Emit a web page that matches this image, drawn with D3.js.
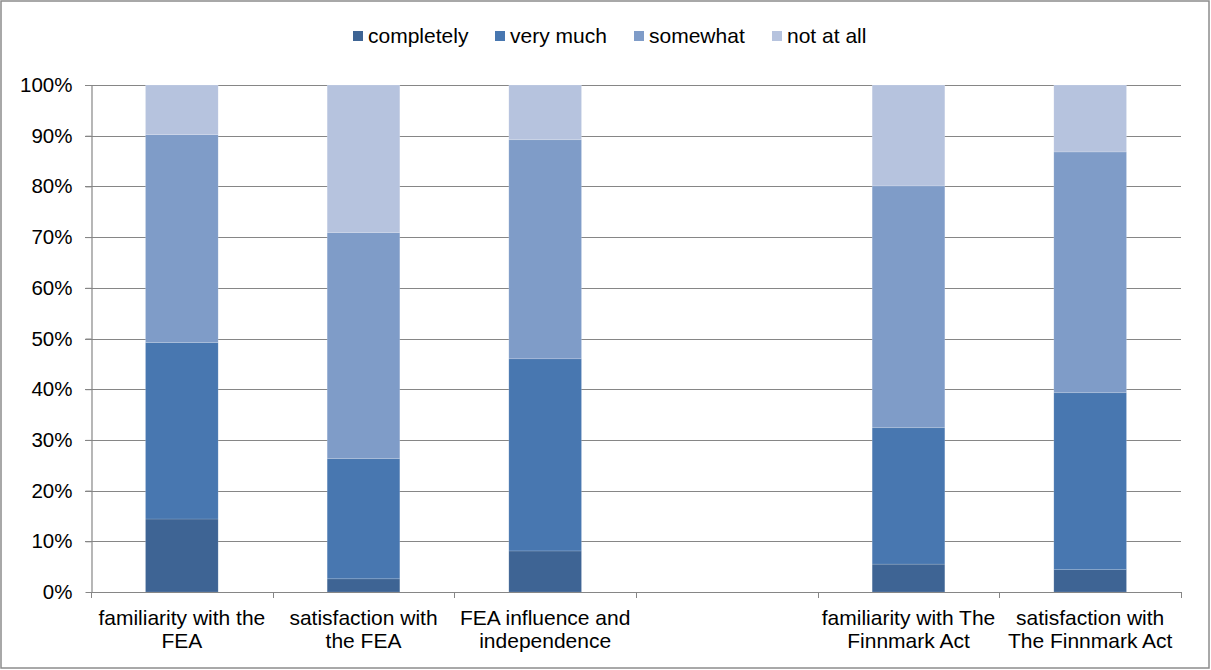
<!DOCTYPE html>
<html>
<head>
<meta charset="utf-8">
<script src="https://cdn.jsdelivr.net/npm/d3@7"></script>
<style>
  html, body { margin: 0; padding: 0; background: #fff; }
  #chart { width: 1211px; height: 670px; }
  text { font-family: "Liberation Sans", Arial, sans-serif; fill: #000; }
</style>
</head>
<body>
<div id="chart"></div>
<script>
// categories (line breaks as in the original labels, slot 4 is empty)
const categories = [
  "familiarity with the\nFEA",
  "satisfaction with\nthe FEA",
  "FEA influence and\nindependence",
  "",
  "familiarity with The\nFinnmark Act",
  "satisfaction with\nThe Finnmark Act"
];
const seriesNames = ["completely", "very much", "somewhat", "not at all"];
const seriesColors = ["#3e6494", "#4877b0", "#7f9cc8", "#b6c3de"];

// percent per category
const completely = [14.4, 2.6, 8.1, null, 5.5, 4.4];
const veryMuch = [34.8, 23.7, 37.9, null, 26.9, 34.9];
const somewhat = [41.0, 44.6, 43.2, null, 47.7, 47.5];
const notAtAll = [9.8, 29.1, 10.8, null, 19.9, 13.2];

const yTicks = [0, 10, 20, 30, 40, 50, 60, 70, 80, 90, 100];

const width = 1211, height = 670;
const margin = { left: 91, right: 30, top: 85, bottom: 78 };

const svg = d3.select("#chart").append("svg")
  .attr("width", width)
  .attr("height", height);

// outer frame
svg.append("rect")
  .attr("x", 1).attr("y", 1)
  .attr("width", width - 3).attr("height", height - 3)
  .attr("fill", "#fff")
  .attr("stroke", "#8c8c8c")
  .attr("stroke-width", 1.5);

const x = d3.scaleBand()
  .domain(d3.range(categories.length))
  .range([margin.left, width - margin.right])
  .paddingInner(0.6)
  .paddingOuter(0.3);

const y = d3.scaleLinear()
  .domain([0, 100])
  .range([height - margin.bottom, margin.top]);

const step = x.step();

// gridlines
svg.append("g")
  .selectAll("line")
  .data(yTicks.filter(d => d > 0))
  .join("line")
  .attr("x1", margin.left - 6)
  .attr("x2", width - margin.right)
  .attr("y1", d => Math.round(y(d)) + 0.5)
  .attr("y2", d => Math.round(y(d)) + 0.5)
  .attr("stroke", "#868686")
  .attr("stroke-width", 1.2);

// stacked bars
const rows = categories.map((c, i) => ({
  i,
  "completely": completely[i],
  "very much": veryMuch[i],
  "somewhat": somewhat[i],
  "not at all": notAtAll[i]
})).filter(r => r.completely != null);

const stack = d3.stack().keys(seriesNames);
const layers = stack(rows);

svg.append("g")
  .selectAll("g")
  .data(layers)
  .join("g")
  .attr("fill", (d, k) => seriesColors[k])
  .selectAll("rect")
  .data(d => d)
  .join("rect")
  .attr("x", d => x(d.data.i))
  .attr("width", x.bandwidth())
  .attr("y", d => y(d[1]))
  .attr("height", d => y(d[0]) - y(d[1]))
  .attr("stroke", "rgba(255,255,255,0.25)")
  .attr("stroke-width", 0.6);

// y axis
const yAxis = svg.append("g")
  .attr("transform", `translate(${margin.left + 0.5},0)`)
  .call(d3.axisLeft(y).tickValues(yTicks).tickFormat(d => d + "%").tickSize(6).tickSizeOuter(0));
yAxis.select(".domain").attr("stroke", "#868686").attr("stroke-width", 1.2);
yAxis.selectAll(".tick line").attr("stroke", "#868686");
yAxis.selectAll(".tick text")
  .attr("x", -19)
  .style("font-size", "20.5px")
  .style("font-family", "'Liberation Sans', Arial, sans-serif")
  .attr("fill", "#000");

// x axis line and ticks at category boundaries
const x0 = y(0);
svg.append("line")
  .attr("x1", margin.left).attr("x2", width - margin.right)
  .attr("y1", Math.round(x0) + 0.5).attr("y2", Math.round(x0) + 0.5)
  .attr("stroke", "#868686")
  .attr("stroke-width", 1.2);
svg.append("g")
  .selectAll("line")
  .data(d3.range(categories.length + 1))
  .join("line")
  .attr("x1", i => Math.round(margin.left + i * step) + 0.5)
  .attr("x2", i => Math.round(margin.left + i * step) + 0.5)
  .attr("y1", x0)
  .attr("y2", x0 + 6)
  .attr("stroke", "#868686");

// category labels
const labels = svg.append("g")
  .selectAll("text")
  .data(categories)
  .join("text")
  .attr("text-anchor", "middle")
  .style("font-size", "21px")
  .attr("transform", (d, i) => `translate(${x(i) + x.bandwidth() / 2},${x0 + 33})`);
labels.selectAll("tspan")
  .data(d => d.split("\n"))
  .join("tspan")
  .attr("x", 0)
  .attr("dy", (d, j) => j === 0 ? 0 : 23)
  .text(d => d);

// legend
const legendX = [353, 495, 634, 772];
const legend = svg.append("g")
  .selectAll("g")
  .data(seriesNames)
  .join("g")
  .attr("transform", (d, k) => `translate(${legendX[k]},31)`);
legend.append("rect")
  .attr("width", 10).attr("height", 10)
  .attr("fill", (d, k) => seriesColors[k]);
legend.append("text")
  .attr("x", 15)
  .attr("y", 12)
  .style("font-size", "21px")
  .text(d => d);
</script>
</body>
</html>
